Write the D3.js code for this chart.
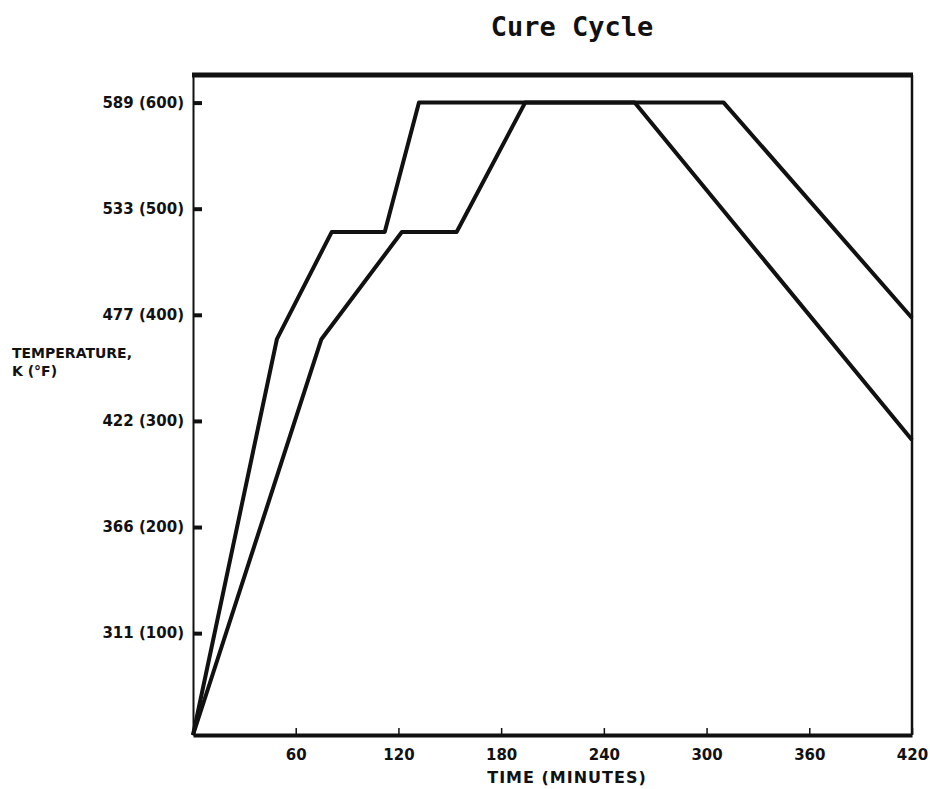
<!DOCTYPE html>
<html>
<head>
<meta charset="utf-8">
<script src="https://cdn.jsdelivr.net/npm/d3@7"></script>
<style>
  body { margin: 0; background: #fff; }
  svg { display: block; }
  .axis text { font-family: 'DejaVu Sans', sans-serif; font-weight: bold; fill: #111; }
</style>
</head>
<body>
<div class="chart"></div>
<script>
// time in minutes, temperature in deg F
const upperTime = [0, 49, 81, 112, 132, 310, 420];
const upperTemp = [4, 377, 478, 478, 600, 600, 397];
const lowerTime = [0, 75, 122, 154, 194, 258, 420];
const lowerTemp = [4, 377, 478, 478, 600, 600, 282];

const yTicksF = [100, 200, 300, 400, 500, 600];
const yTicksK = ['311', '366', '422', '477', '533', '589'];
const xTicks = [60, 120, 180, 240, 300, 360, 420];

const svg = d3.select('.chart').append('svg')
  .attr('width', 930)
  .attr('height', 789);

const margin = { top: 75, right: 20, bottom: 54, left: 193 };
const width = 912 - margin.left;
const height = 735 - margin.top;

const g = svg.append('g')
  .attr('transform', `translate(${margin.left},${margin.top})`);

const x = d3.scaleLinear().domain([0, 420]).range([0, width]);
const y = d3.scaleLinear().domain([4, 626]).range([height, 0]);

// title
svg.append('text')
  .attr('x', 572)
  .attr('y', 36)
  .attr('text-anchor', 'middle')
  .style('font-family', "'DejaVu Sans Mono', monospace")
  .style('font-weight', 'bold')
  .style('font-size', '27px')
  .attr('fill', '#111')
  .text('Cure Cycle');

// frame top + right
g.append('line')
  .attr('x1', -1).attr('x2', width + 1)
  .attr('y1', 0).attr('y2', 0)
  .attr('stroke', '#111').attr('stroke-width', 5);
g.append('line')
  .attr('x1', width).attr('x2', width)
  .attr('y1', 0).attr('y2', height)
  .attr('stroke', '#111').attr('stroke-width', 2.5);

const yAxis = g.append('g')
  .attr('class', 'axis')
  .call(d3.axisLeft(y)
    .tickValues(yTicksF)
    .tickSizeInner(-9)
    .tickSizeOuter(0)
    .tickPadding(9)
    .tickFormat((d, i) => `${yTicksK[i]} (${d})`));
yAxis.select('.domain').attr('stroke', '#111').attr('stroke-width', 2);
yAxis.selectAll('.tick line').attr('stroke', '#111').attr('stroke-width', 4);
yAxis.selectAll('.tick text').style('font-size', '15px');

const xAxis = g.append('g')
  .attr('class', 'axis')
  .attr('transform', `translate(0,${height})`)
  .call(d3.axisBottom(x)
    .tickValues(xTicks)
    .tickSizeInner(-7)
    .tickSizeOuter(0)
    .tickPadding(14)
    .tickFormat(d3.format('d')));
xAxis.select('.domain').attr('stroke', '#111').attr('stroke-width', 4);
xAxis.selectAll('.tick line').attr('stroke', '#111').attr('stroke-width', 1.5);
xAxis.selectAll('.tick text').style('font-size', '15px');

// axis titles
svg.append('text')
  .attr('x', 567)
  .attr('y', 783)
  .attr('text-anchor', 'middle')
  .style('font-family', "'DejaVu Sans', sans-serif")
  .style('font-weight', 'bold')
  .style('font-size', '16px')
  .style('letter-spacing', '1px')
  .attr('fill', '#111')
  .text('TIME (MINUTES)');

const yTitle = svg.append('text')
  .style('font-family', "'DejaVu Sans', sans-serif")
  .style('font-weight', 'bold')
  .style('font-size', '14px')
  .attr('fill', '#111');
yTitle.append('tspan').attr('x', 12).attr('y', 358).text('TEMPERATURE,');
yTitle.append('tspan').attr('x', 12).attr('y', 376).text('K (°F)');

const line = d3.line()
  .x(d => x(d[0]))
  .y(d => y(d[1]));

const series = [d3.zip(upperTime, upperTemp), d3.zip(lowerTime, lowerTemp)];

g.selectAll('.curve')
  .data(series)
  .enter().append('path')
  .attr('class', 'curve')
  .attr('d', line)
  .attr('fill', 'none')
  .attr('stroke', '#111')
  .attr('stroke-width', 4)
  .attr('stroke-linejoin', 'round');
</script>
</body>
</html>
